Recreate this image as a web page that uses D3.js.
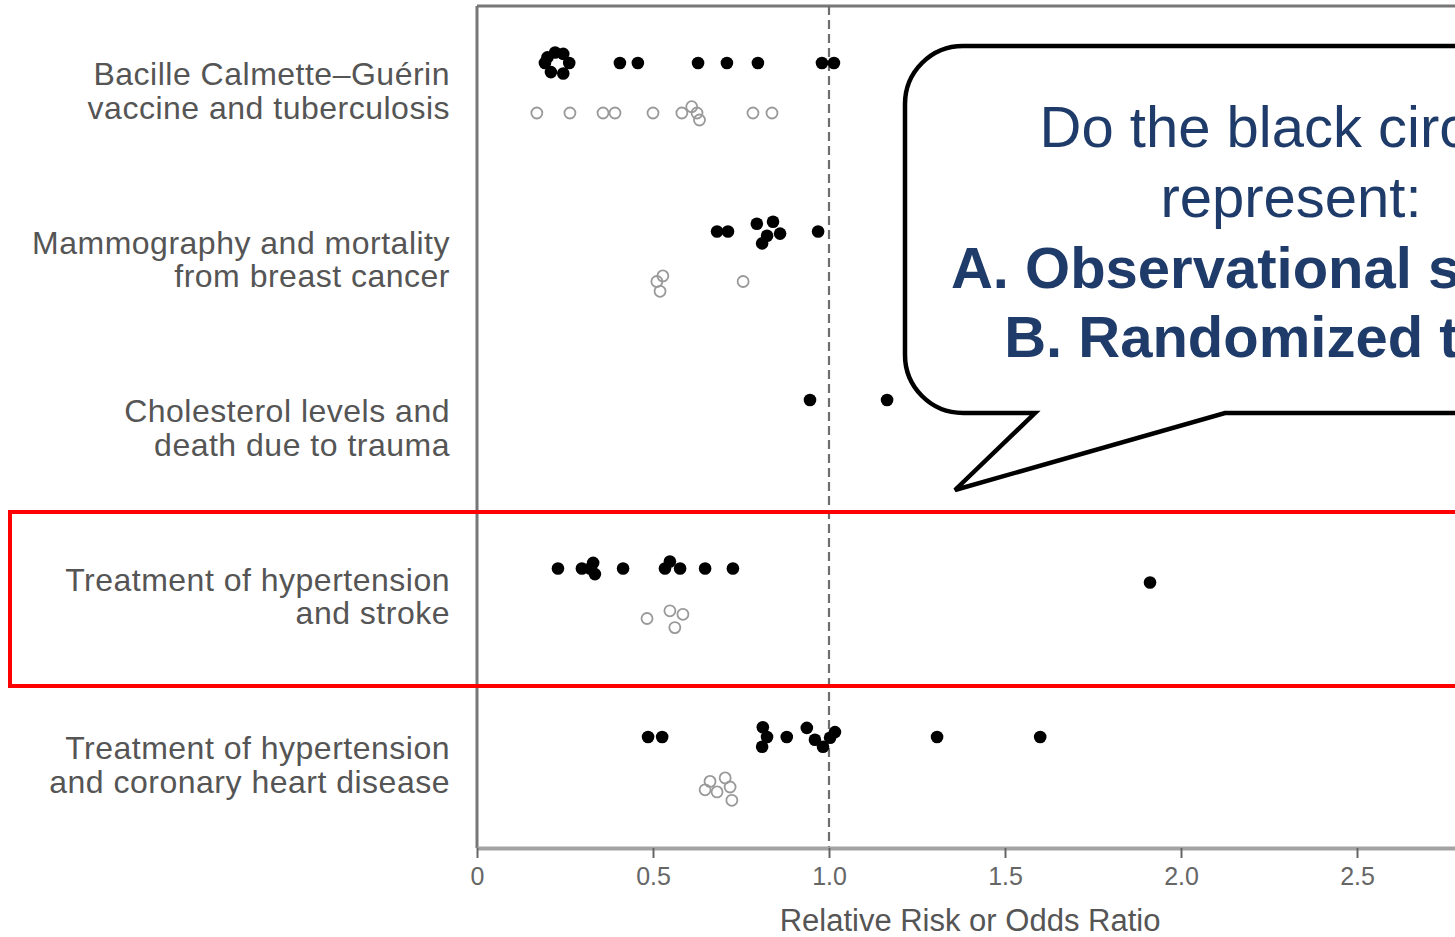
<!DOCTYPE html>
<html>
<head>
<meta charset="utf-8">
<script src="https://cdn.jsdelivr.net/npm/d3@7"></script>
<style>
    html, body { margin: 0; padding: 0; background: #fff; overflow: hidden; }
    #chart { width: 1455px; height: 937px; }
    svg { display: block; font-family: "Liberation Sans", Arial, sans-serif; }
</style>
</head>
<body>
<div id="chart"></div>
<script>

// rows of the figure, top to bottom
const categories = ['bcg', 'mammography', 'cholesterol', 'strokeHtn', 'chdHtn']

const rowLabels = [
    ['Bacille Calmette\u2013Gu\u00e9rin', 'vaccine and tuberculosis'],
    ['Mammography and mortality', 'from breast cancer'],
    ['Cholesterol levels and', 'death due to trauma'],
    ['Treatment of hypertension', 'and stroke'],
    ['Treatment of hypertension', 'and coronary heart disease']
]

// black circles: [row, relative risk, stacking lane]
const blackCircles = [
    ['bcg', 0.193, 0], ['bcg', 0.222, -1.5], ['bcg', 0.245, -1.3], ['bcg', 0.262, 0],
    ['bcg', 0.245, 1.5], ['bcg', 0.21, 1.3], ['bcg', 0.2, -0.8],
    ['bcg', 0.406, 0], ['bcg', 0.457, 0], ['bcg', 0.628, 0], ['bcg', 0.71, 0],
    ['bcg', 0.798, 0], ['bcg', 0.98, 0], ['bcg', 1.014, 0],
    ['mammography', 0.682, 0], ['mammography', 0.713, 0],
    ['mammography', 0.795, -1.1], ['mammography', 0.841, -1.4], ['mammography', 0.824, 0.6],
    ['mammography', 0.861, 0.3], ['mammography', 0.81, 1.7], ['mammography', 0.969, 0],
    ['cholesterol', 0.946, 0], ['cholesterol', 1.165, 0],
    ['strokeHtn', 0.23, 0], ['strokeHtn', 0.298, 0], ['strokeHtn', 0.33, -0.8],
    ['strokeHtn', 0.335, 0.8], ['strokeHtn', 0.321, 0], ['strokeHtn', 0.415, 0],
    ['strokeHtn', 0.548, -1], ['strokeHtn', 0.534, 0], ['strokeHtn', 0.577, 0],
    ['strokeHtn', 0.648, 0], ['strokeHtn', 0.727, 0], ['strokeHtn', 1.912, 2],
    ['chdHtn', 0.486, 0], ['chdHtn', 0.526, 0],
    ['chdHtn', 0.812, -1.4], ['chdHtn', 0.824, 0], ['chdHtn', 0.81, 1.4], ['chdHtn', 0.88, 0],
    ['chdHtn', 0.937, -1.3], ['chdHtn', 0.96, 0.4], ['chdHtn', 0.983, 1.4],
    ['chdHtn', 1.017, -0.7], ['chdHtn', 1.003, 0.1],
    ['chdHtn', 1.307, 0], ['chdHtn', 1.6, 0]
]

// open circles: [row, relative risk, stacking lane]
const openCircles = [
    ['bcg', 0.17, 0], ['bcg', 0.264, 0], ['bcg', 0.358, 0], ['bcg', 0.392, 0],
    ['bcg', 0.5, 0], ['bcg', 0.582, 0], ['bcg', 0.61, -0.9], ['bcg', 0.625, 0],
    ['bcg', 0.632, 1], ['bcg', 0.784, 0], ['bcg', 0.838, 0],
    ['mammography', 0.511, 0], ['mammography', 0.528, -0.8], ['mammography', 0.52, 1.4],
    ['mammography', 0.756, 0],
    ['strokeHtn', 0.483, 0], ['strokeHtn', 0.548, -1.1], ['strokeHtn', 0.585, -0.6],
    ['strokeHtn', 0.562, 1.3],
    ['chdHtn', 0.662, -0.8], ['chdHtn', 0.705, -1.3], ['chdHtn', 0.648, 0.4],
    ['chdHtn', 0.682, 0.7], ['chdHtn', 0.724, 1.9], ['chdHtn', 0.719, 0]
]

const tickValues = [0, 0.5, 1.0, 1.5, 2.0, 2.5]
const tickLabels = ['0', '0.5', '1.0', '1.5', '2.0', '2.5']

const axisTitle = 'Relative Risk or Odds Ratio'

const calloutLines = [
    { text: 'Do the black circles', bold: false },
    { text: 'represent:', bold: false },
    { text: 'A. Observational studies', bold: true },
    { text: 'B. Randomized trials', bold: true }
]

document.addEventListener("DOMContentLoaded", function() {
    drawChart()
});

function drawChart() {

    const width = 1455
    const height = 937
    const plotTop = 6
    const plotBottom = 848

    const svg = d3.select('#chart').append('svg')
        .attr('width', width)
        .attr('height', height)

    const x = d3.scaleLinear()
        .domain([0, 3])
        .range([477, 1533])

    const row = d3.scalePoint()
        .domain(categories)
        .range([63, 737])

    // small vertical stacking of overlapping circles
    const lane = d3.scaleLinear()
        .domain([-1, 1])
        .range([-7, 7])

    const openOffset = 50

    // frame: left and top edges
    svg.append('line')
        .attr('x1', x(0)).attr('x2', x(0))
        .attr('y1', plotTop).attr('y2', plotBottom)
        .style('stroke', '#777')
        .style('stroke-width', 3)

    svg.append('line')
        .attr('x1', x(0)).attr('x2', x(3))
        .attr('y1', plotTop).attr('y2', plotTop)
        .style('stroke', '#777')
        .style('stroke-width', 3)

    // reference line at 1.0
    svg.append('line')
        .attr('x1', x(1)).attr('x2', x(1))
        .attr('y1', plotTop).attr('y2', plotBottom)
        .style('stroke', '#6e6e6e')
        .style('stroke-width', 2.2)
        .style('stroke-dasharray', '9,5')

    // x axis
    const xAxis = d3.axisBottom(x)
        .tickValues(tickValues)
        .tickFormat((d, i) => tickLabels[i])
        .tickSizeInner(10)
        .tickSizeOuter(0)
        .tickPadding(9)

    const axisG = svg.append('g')
        .attr('class', 'x axis')
        .attr('transform', `translate(0,${plotBottom})`)
        .call(xAxis)

    axisG.select('path.domain')
        .style('stroke', '#a3a3a3')
        .style('stroke-width', 4)

    axisG.selectAll('.tick line')
        .style('stroke', '#666')
        .style('stroke-width', 2)

    axisG.selectAll('.tick text')
        .style('font-family', '"Liberation Sans", Arial, sans-serif')
        .style('font-size', '25px')
        .style('fill', '#666')

    svg.append('text')
        .attr('x', 970)
        .attr('y', 931)
        .attr('text-anchor', 'middle')
        .style('font-size', '31px')
        .style('fill', '#555')
        .text(axisTitle)

    // row labels
    const labelG = svg.append('g').attr('class', 'labels')
    categories.forEach(function(cat, i) {
        rowLabels[i].forEach(function(line, j) {
            labelG.append('text')
                .attr('x', 450)
                .attr('y', row(cat) + 22 + j * 33.5)
                .attr('text-anchor', 'end')
                .style('font-size', '32px')
                .style('letter-spacing', '0.5px')
                .style('fill', '#555')
                .text(line)
        })
    })

    // open circles
    svg.append('g').attr('class', 'open')
        .selectAll('circle')
        .data(openCircles)
        .enter().append('circle')
            .attr('cx', d => x(d[1]))
            .attr('cy', d => row(d[0]) + openOffset + lane(d[2]))
            .attr('r', 5.5)
            .style('fill', 'none')
            .style('stroke', '#999')
            .style('stroke-width', 1.8)

    // black circles
    svg.append('g').attr('class', 'black')
        .selectAll('circle')
        .data(blackCircles)
        .enter().append('circle')
            .attr('cx', d => x(d[1]))
            .attr('cy', d => row(d[0]) + lane(d[2]))
            .attr('r', 6.3)
            .style('fill', '#000')

    // red highlight around the stroke row
    svg.append('rect')
        .attr('x', 10)
        .attr('y', 512)
        .attr('width', 1600)
        .attr('height', 174)
        .style('fill', 'none')
        .style('stroke', '#ff0000')
        .style('stroke-width', 4)

    // speech bubble
    const r = 58
    const left = 905, top = 46, bottom = 413
    const bubble = `M ${left + r} ${top} H 1700 V ${bottom} H 1225 L 955 490 L 1035 ${bottom} ` +
        `H ${left + r} A ${r} ${r} 0 0 1 ${left} ${bottom - r} V ${top + r} ` +
        `A ${r} ${r} 0 0 1 ${left + r} ${top} Z`

    svg.append('path')
        .attr('d', bubble)
        .style('fill', '#fff')
        .style('stroke', '#000')
        .style('stroke-width', 4.5)
        .style('stroke-linejoin', 'miter')

    const baselines = [147, 217, 288, 357]
    svg.append('g').attr('class', 'callout')
        .selectAll('text')
        .data(calloutLines)
        .enter().append('text')
            .attr('x', 1291)
            .attr('y', (d, i) => baselines[i])
            .attr('text-anchor', 'middle')
            .style('font-size', '58px')
            .style('font-weight', d => d.bold ? 'bold' : 'normal')
            .style('fill', '#1f3b69')
            .text(d => d.text)
}
</script>
</body>
</html>
